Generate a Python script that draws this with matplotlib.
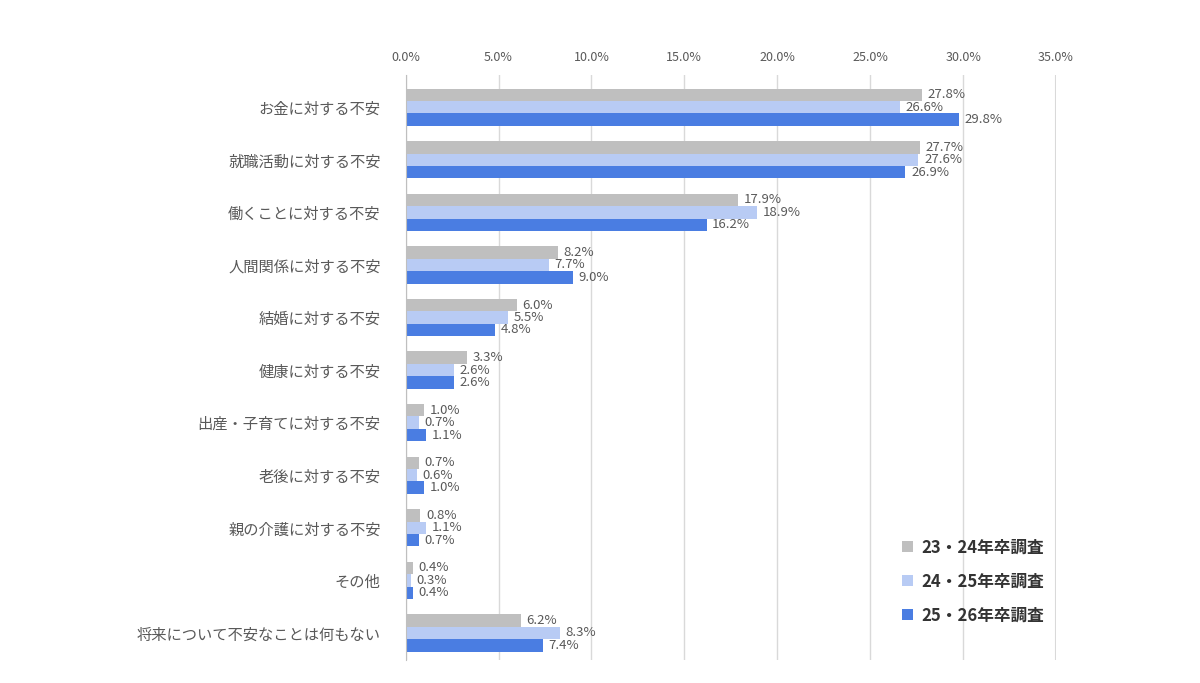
import matplotlib.pyplot as plt
import numpy as np
from matplotlib.ticker import FuncFormatter

plt.rcParams['font.family'] = ['Noto Sans CJK JP', 'DejaVu Sans']

categories = ['お金に対する不安', '就職活動に対する不安', '働くことに対する不安',
              '人間関係に対する不安', '結婚に対する不安', '健康に対する不安',
              '出産・子育てに対する不安', '老後に対する不安', '親の介護に対する不安',
              'その他', '将来について不安なことは何もない']
series_names = ['23・24年卒調査', '24・25年卒調査', '25・26年卒調査']
s2324 = [27.8, 27.7, 17.9, 8.2, 6.0, 3.3, 1.0, 0.7, 0.8, 0.4, 6.2]
s2425 = [26.6, 27.6, 18.9, 7.7, 5.5, 2.6, 0.7, 0.6, 1.1, 0.3, 8.3]
s2526 = [29.8, 26.9, 16.2, 9.0, 4.8, 2.6, 1.1, 1.0, 0.7, 0.4, 7.4]

colors = ['#bfbfbf', '#b8cbf4', '#4a7de2']
text_col = '#595959'

fig = plt.figure(figsize=(12, 6.83), dpi=100)
ax = fig.add_axes([0.338, 0.034, 0.542, 0.856])

y = np.arange(len(categories))
h = 0.236
for i, (vals, name) in enumerate(zip([s2324, s2425, s2526], series_names)):
    pos = y + (i - 1) * h
    bars = ax.barh(pos, vals, height=h, color=colors[i], label=name, zorder=2)
    for b, v in zip(bars, vals):
        ax.annotate(f'{v:.1f}%', (b.get_width(), b.get_y() + b.get_height() / 2),
                    xytext=(4, 0), textcoords='offset points', va='center',
                    ha='left', fontsize=9.5, color=text_col)

ax.set_xlim(0, 35)
ax.set_ylim(10.51, -0.61)
ax.set_xticks(np.arange(0, 36, 5))
ax.xaxis.set_major_formatter(FuncFormatter(lambda v, p: '0.0%' if v == 0 else f'{v:.1f}%'))
ax.xaxis.tick_top()
ax.tick_params(axis='x', length=0, labelsize=9, labelcolor=text_col, pad=8)
ax.set_yticks(y)
ax.set_yticklabels(categories, fontsize=11, color=text_col)
ax.tick_params(axis='y', length=0, pad=18)
ax.grid(axis='x', color='#d9d9d9', linewidth=1, zorder=0)
ax.axvline(35, color='#d9d9d9', linewidth=1.5, zorder=0)
for s in ['top', 'right', 'bottom']:
    ax.spines[s].set_visible(False)
ax.spines['left'].set_color('#bfbfbf')

leg = ax.legend(loc='lower right', bbox_to_anchor=(1.005, 0.035), frameon=False,
                fontsize=12, handlelength=0.65, handleheight=0.65,
                labelspacing=0.95, handletextpad=0.5)
for t in leg.get_texts():
    t.set_color('#333333')
    t.set_fontweight('bold')

fig.savefig('out.png', dpi=100, facecolor='white')
